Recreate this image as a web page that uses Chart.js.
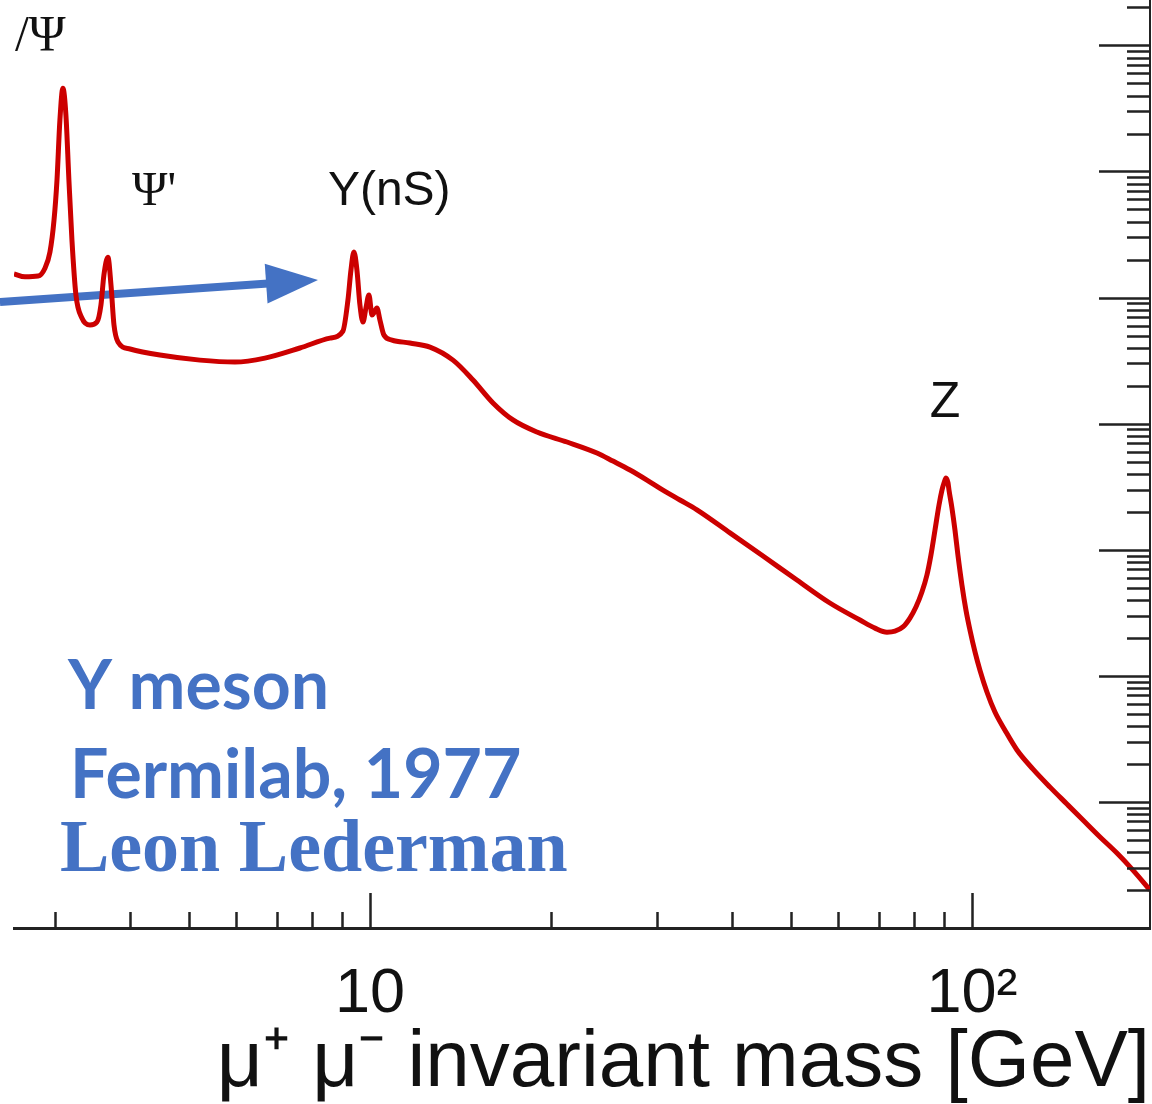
<!DOCTYPE html>
<html>
<head>
<meta charset="utf-8">
<script src="https://cdn.jsdelivr.net/npm/chart.js@4.4.0/dist/chart.umd.min.js"></script>
<style>
  html, body { margin: 0; padding: 0; background: #fff; }
  canvas { display: block; }
</style>
</head>
<body>
<canvas id="massChart" width="1152" height="1104"></canvas>
<script>
// dimuon invariant mass spectrum (arbitrary units on y)
var massGeV = [2.563, 2.673, 2.810, 2.885, 2.941, 2.987, 3.021, 3.055, 3.090, 3.126,
    3.162, 3.199, 3.248, 3.323, 3.427, 3.520, 3.574, 3.615, 3.671, 3.714,
    3.757, 3.815, 3.995, 4.479, 5.220, 5.967, 6.692, 7.650, 8.583, 9.018,
    9.193, 9.300, 9.406, 9.515, 9.625, 9.737, 9.848, 9.962, 10.08, 10.15,
    10.27, 10.39, 10.55, 10.88, 11.65, 12.58, 13.74, 14.83, 16.01, 17.28,
    18.94, 21.25, 23.83, 25.33, 27.04, 28.85, 30.67, 32.73, 34.93, 39.63,
    44.97, 51.20, 58.08, 65.16, 69.02, 72.26, 74.50, 76.81, 78.89, 80.72,
    82.59, 84.19, 85.49, 86.82, 88.16, 89.17, 89.86, 90.55, 91.25, 91.60,
    92.64, 93.72, 94.78, 96.25, 97.73, 99.24, 101.2, 103.1, 105.9, 109.2,
    113.4, 118.8, 126.3, 134.8, 143.8, 152.9, 163.2, 174.1, 185.1, 197.6];
var eventYield = [1.54e5, 1.46e5, 1.48e5, 1.71e5, 2.30e5, 4.12e5, 8.55e5, 2.56e6, 4.58e6, 2.80e6,
    8.55e5, 2.86e5, 1.05e5, 6.88e4, 6.05e4, 6.39e4, 8.72e4, 1.51e5, 2.09e5, 1.26e5,
    6.05e4, 4.44e4, 3.91e4, 3.50e4, 3.19e4, 3.08e4, 3.31e4, 3.98e4, 4.77e4, 5.42e4,
    9.55e4, 1.65e5, 2.30e5, 1.65e5, 8.72e4, 6.39e4, 8.26e4, 1.05e5, 7.26e4, 7.54e4,
    8.26e4, 6.63e4, 5.04e4, 4.60e4, 4.36e4, 4.05e4, 3.19e4, 2.22e4, 1.46e4, 1.07e4,
    8.58e3, 7.15e3, 5.85e3, 5.05e3, 4.29e3, 3.57e3, 2.97e3, 2.48e3, 2.07e3, 1.36e3,
    891, 575, 378, 277, 239, 222, 226, 244, 287, 351,
    462, 630, 908, 1.43e3, 2.26e3, 2.97e3, 3.38e3, 3.70e3, 3.39e3, 2.97e3,
    2.14e3, 1.43e3, 908, 525, 333, 231, 154, 111, 74.4, 51.6,
    37.2, 25.8, 18.2, 13.1, 9.62, 7.18, 5.27, 3.93, 2.88, 2.00];

var xTickValues = [3, 4, 5, 6, 7, 8, 9, 10, 20, 30, 40, 50, 60, 70, 80, 90, 100];
var xTickLabels = { 10: '10', 100: '10\u00B2' };
var yTickValues = [];
for (var e = 0; e <= 7; e++) {
    for (var s = 1; s <= 9; s++) {
        if (s * Math.pow(10, e) <= 2.2e7) yTickValues.push(s * Math.pow(10, e));
    }
}

var xMin = 2.563, xMax = 197.6;
var yMin = 1, yMax = 2.29e7;

// peak labels and the text block, anchored in data coordinates
var labelText = ['/\u03A8', '\u03A8\'', '\u03A5(nS)', 'Z', 'Y meson', 'Fermilab, 1977', 'Leon Lederman'];
var labelMass = [2.572, 4.025, 8.515, 90.2, 3.150, 3.175, 3.055];
var labelYield = [9.18e6, 5.42e5, 5.42e5, 1.128e4, 55.0, 10.7, 2.83];
var arrowFrom = [2.429, 9.2e4];
var arrowTo = [8.199, 1.377e5];

var labelStyle = [
    { font: '50px "Liberation Serif"', color: '#111', align: 'left' },
    { font: '48px "Liberation Serif"', color: '#111', align: 'left' },
    { font: '48px "Liberation Sans"', color: '#111', align: 'left' },
    { font: '50px "Liberation Sans"', color: '#111', align: 'center' },
    { font: 'bold 68px Lato', color: '#4472C4', align: 'left' },
    { font: 'bold 68px Lato', color: '#4472C4', align: 'left' },
    { font: 'bold 74px "Liberation Serif"', color: '#4472C4', align: 'left' }
];

function isDecade(v) {
    var l = Math.log10(v);
    return Math.abs(l - Math.round(l)) < 1e-9;
}

var innerTicks = {
    id: 'innerTicks',
    afterDraw: function (chart) {
        var ctx = chart.ctx;
        var xs = chart.scales.x, ys = chart.scales.y;
        ctx.save();
        ctx.strokeStyle = '#222';
        ctx.lineWidth = 2.5;
        ctx.beginPath();
        xTickValues.forEach(function (v) {
            var px = Math.round(xs.getPixelForValue(v)) + 0.5;
            var len = isDecade(v) ? 35 : 16;
            ctx.moveTo(px, xs.top);
            ctx.lineTo(px, xs.top - len);
        });
        yTickValues.forEach(function (v) {
            var py = Math.round(ys.getPixelForValue(v)) + 0.5;
            var len = isDecade(v) ? 51 : 23;
            ctx.moveTo(ys.left, py);
            ctx.lineTo(ys.left - len, py);
        });
        ctx.stroke();
        ctx.restore();
    }
};

var notes = {
    id: 'notes',
    beforeDatasetsDraw: function (chart) {
        var ctx = chart.ctx;
        var xs = chart.scales.x, ys = chart.scales.y;
        var x0 = xs.getPixelForValue(arrowFrom[0]), y0 = ys.getPixelForValue(arrowFrom[1]);
        var x1 = xs.getPixelForValue(arrowTo[0]), y1 = ys.getPixelForValue(arrowTo[1]);
        var ang = Math.atan2(y1 - y0, x1 - x0);
        var head = 52, half = 20;
        var bx = x1 - head * Math.cos(ang), by = y1 - head * Math.sin(ang);
        ctx.save();
        ctx.strokeStyle = '#4472C4';
        ctx.fillStyle = '#4472C4';
        ctx.lineWidth = 8;
        ctx.beginPath();
        ctx.moveTo(x0, y0);
        ctx.lineTo(bx + 2 * Math.cos(ang), by + 2 * Math.sin(ang));
        ctx.stroke();
        ctx.beginPath();
        ctx.moveTo(x1, y1);
        ctx.lineTo(bx - half * Math.sin(ang), by + half * Math.cos(ang));
        ctx.lineTo(bx + half * Math.sin(ang), by - half * Math.cos(ang));
        ctx.closePath();
        ctx.fill();
        ctx.restore();
    },
    afterDraw: function (chart) {
        var ctx = chart.ctx;
        var xs = chart.scales.x, ys = chart.scales.y;
        ctx.save();
        ctx.textBaseline = 'alphabetic';
        for (var i = 0; i < labelText.length; i++) {
            ctx.font = labelStyle[i].font;
            ctx.fillStyle = labelStyle[i].color;
            ctx.textAlign = labelStyle[i].align;
            ctx.fillText(labelText[i], xs.getPixelForValue(labelMass[i]), ys.getPixelForValue(labelYield[i]));
        }
        ctx.restore();
    }
};

var points = massGeV.map(function (m, i) { return { x: m, y: eventYield[i] }; });

var chart = new Chart(document.getElementById('massChart'), {
    type: 'line',
    data: {
        datasets: [{
            data: points,
            borderColor: '#CC0000',
            borderWidth: 5,
            pointRadius: 0,
            fill: false,
            cubicInterpolationMode: 'monotone'
        }]
    },
    options: {
        responsive: false,
        animation: false,
        layout: { padding: { left: 14, right: 0, top: 0, bottom: 0 } },
        plugins: { legend: { display: false }, tooltip: { enabled: false } },
        scales: {
            x: {
                type: 'logarithmic',
                position: 'bottom',
                min: xMin,
                max: xMax,
                grid: { display: false, drawTicks: false },
                border: { display: true, color: '#222', width: 3 },
                afterBuildTicks: function (scale) {
                    scale.ticks = xTickValues.map(function (v) { return { value: v }; });
                },
                afterFit: function (scale) { scale.height = 176; },
                ticks: {
                    autoSkip: false,
                    maxRotation: 0,
                    minRotation: 0,
                    padding: 29,
                    color: '#111',
                    font: { family: 'Liberation Sans', size: 63 },
                    callback: function (value) { return xTickLabels[value] || ''; }
                },
                title: {
                    display: true,
                    text: '\u03BC\u207A \u03BC\u207B invariant mass [GeV]',
                    align: 'end',
                    color: '#111',
                    font: { family: 'Liberation Sans', size: 80, lineHeight: 1.0 },
                    padding: { top: 0, bottom: 0 }
                }
            },
            y: {
                type: 'logarithmic',
                position: 'right',
                min: yMin,
                max: yMax,
                grid: { display: false, drawTicks: false },
                border: { display: true, color: '#222', width: 2 },
                afterBuildTicks: function (scale) {
                    scale.ticks = yTickValues.map(function (v) { return { value: v }; });
                },
                afterFit: function (scale) { scale.width = 2; },
                ticks: { display: false }
            }
        }
    },
    plugins: [innerTicks, notes]
});
</script>
</body>
</html>
